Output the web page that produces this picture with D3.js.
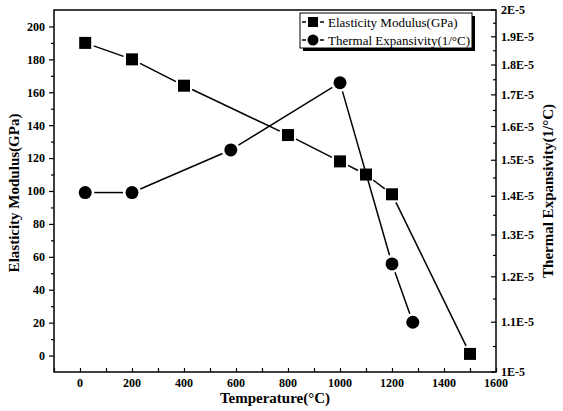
<!DOCTYPE html>
<html>
<head>
<meta charset="utf-8">
<style>
  html, body { margin:0; padding:0; background:#fff; }
  svg { display:block; font-family:"Liberation Serif","Times New Roman",serif; }
  svg text { fill:#000; font-family:"Liberation Serif","Times New Roman",serif; }
  .tick text { font-weight:bold; font-size:12px; }
  .axis path, .axis line { stroke:#000; }
</style>
</head>
<body>
<svg id="chart" width="563" height="411"></svg>
<script src="https://d3js.org/d3.v7.min.js"></script>
<script>
// data
const modTemp   = [20, 200, 400, 800, 1000, 1100, 1200, 1500];
const modValue  = [190, 180, 164, 134, 118, 110, 98, 1];
const expTemp   = [20, 200, 580, 1000, 1200, 1280];
const expValue  = [1.41e-5, 1.41e-5, 1.53e-5, 1.74e-5, 1.23e-5, 1.10e-5];
const xTicks    = [0, 200, 400, 600, 800, 1000, 1200, 1400, 1600];
const yTicks    = [0, 20, 40, 60, 80, 100, 120, 140, 160, 180, 200];
const y2Ticks   = [1e-5, 1.1e-5, 1.2e-5, 1.3e-5, 1.4e-5, 1.5e-5, 1.6e-5, 1.7e-5, 1.8e-5, 1.9e-5, 2e-5];
const y2Labels  = ["1E-5","1.1E-5","1.2E-5","1.3E-5","1.4E-5","1.5E-5","1.6E-5","1.7E-5","1.8E-5","1.9E-5","2E-5"];

const svg = d3.select("#chart");
const L = 54, R = 496, T = 10, B = 372;

const x  = d3.scaleLinear().domain([-100, 1600]).range([L, R]);
const y  = d3.scaleLinear().domain([-10, 210]).range([B, T]);
const y2 = d3.scaleLog().domain([1e-5, 2e-5]).range([B, T]);

// frame
svg.append("rect").attr("x", L).attr("y", T).attr("width", R - L).attr("height", B - T)
  .attr("fill", "none").attr("stroke", "#000").attr("stroke-width", 1.5);

// bottom axis (ticks inward)
const gx = svg.append("g").attr("class", "axis").attr("transform", `translate(0,${B})`);
gx.call(d3.axisBottom(x).tickValues(d3.range(-100, 1601, 100)).tickSize(0).tickFormat(""));
gx.selectAll(".tick line").attr("y2", -4).attr("stroke-width", 1.2);
gx.select(".domain").remove();
gx.append("g").selectAll("text").data(xTicks).join("text")
  .attr("x", d => x(d)).attr("y", 15).attr("text-anchor", "middle")
  .attr("font-weight", "bold").attr("font-size", 12).text(d => d);

// left axis (ticks outward)
const gy = svg.append("g").attr("class", "axis").attr("transform", `translate(${L},0)`);
gy.call(d3.axisLeft(y).tickValues(d3.range(0, 201, 10)).tickSize(5).tickPadding(4)
  .tickFormat(d => yTicks.includes(d) ? d : ""));
gy.selectAll(".tick line").attr("stroke-width", 1.2).attr("x2", d => yTicks.includes(d) ? -5 : -3);
gy.select(".domain").remove();

// right axis (log, ticks inward)
const minor2 = d3.range(10.5, 20, 1).map(v => v * 1e-6);
const gy2 = svg.append("g").attr("class", "axis").attr("transform", `translate(${R},0)`);
gy2.selectAll("line.maj").data(y2Ticks).join("line").attr("class", "maj")
  .attr("x1", -5).attr("x2", 0).attr("y1", d => y2(d)).attr("y2", d => y2(d))
  .attr("stroke", "#000").attr("stroke-width", 1.2);
gy2.selectAll("line.min").data(minor2).join("line").attr("class", "min")
  .attr("x1", -3).attr("x2", 0).attr("y1", d => y2(d)).attr("y2", d => y2(d))
  .attr("stroke", "#000").attr("stroke-width", 1.2);
gy2.selectAll("text").data(y2Ticks).join("text")
  .attr("x", 5).attr("y", d => y2(d)).attr("dy", "0.35em")
  .attr("font-weight", "bold").attr("font-size", 12).text((d, i) => y2Labels[i]);

// axis titles
svg.append("text").attr("x", (L + R) / 2).attr("y", 403).attr("text-anchor", "middle")
  .attr("font-weight", "bold").attr("font-size", 15).text("Temperature(°C)");
svg.append("text").attr("transform", `translate(19,${(T + B) / 2 + 2}) rotate(-90)`)
  .attr("text-anchor", "middle").attr("font-weight", "bold").attr("font-size", 15)
  .text("Elasticity Modulus(GPa)");
svg.append("text").attr("transform", `translate(553,${(T + B) / 2}) rotate(-90)`)
  .attr("text-anchor", "middle").attr("font-weight", "bold").attr("font-size", 15)
  .text("Thermal Expansivity(1/°C)");

// series: line segments leave a small gap around each symbol
const modPts = modTemp.map((t, i) => [x(t), y(modValue[i])]);
const expPts = expTemp.map((t, i) => [x(t), y2(expValue[i])]);
const gap = 9;
function segments(pts) {
  return d3.pairs(pts).map(([a, b]) => {
    const dx = b[0] - a[0], dy = b[1] - a[1], len = Math.hypot(dx, dy);
    const ux = dx / len, uy = dy / len;
    return [a[0] + ux * gap, a[1] + uy * gap, b[0] - ux * gap, b[1] - uy * gap, len];
  }).filter(s => s[4] > 2 * gap);
}
[modPts, expPts].forEach(pts => {
  svg.append("g").selectAll("line").data(segments(pts)).join("line")
    .attr("x1", s => s[0]).attr("y1", s => s[1]).attr("x2", s => s[2]).attr("y2", s => s[3])
    .attr("stroke", "#000").attr("stroke-width", 1.5);
});

const S = 12;
svg.selectAll("rect.sq").data(modPts).join("rect").attr("class", "sq")
  .attr("x", d => d[0] - S / 2).attr("y", d => d[1] - S / 2)
  .attr("width", S).attr("height", S).attr("fill", "#000");
svg.selectAll("circle.ci").data(expPts).join("circle").attr("class", "ci")
  .attr("cx", d => d[0]).attr("cy", d => d[1]).attr("r", 6.5).attr("fill", "#000");

// legend
const lg = svg.append("g").attr("transform", "translate(300,13)");
const lw = 172, lh = 35;
lg.append("rect").attr("x", 3).attr("y", 3).attr("width", lw).attr("height", lh).attr("fill", "#000");
lg.append("rect").attr("width", lw).attr("height", lh).attr("fill", "#fff").attr("stroke", "#000");
const items = [["Elasticity Modulus(GPa)", "sq"], ["Thermal Expansivity(1/°C)", "ci"]];
items.forEach((it, i) => {
  const cy = 9 + i * 18;
  lg.append("line").attr("x1", 2).attr("x2", 6).attr("y1", cy).attr("y2", cy)
    .attr("stroke", "#000").attr("stroke-width", 1.5);
  lg.append("line").attr("x1", 20).attr("x2", 24).attr("y1", cy).attr("y2", cy)
    .attr("stroke", "#000").attr("stroke-width", 1.5);
  if (it[1] === "sq") lg.append("rect").attr("x", 8).attr("y", cy - 5).attr("width", 10).attr("height", 10);
  else lg.append("circle").attr("cx", 13).attr("cy", cy).attr("r", 5.5);
  lg.append("text").attr("x", 28).attr("y", cy).attr("dy", "0.35em")
    .attr("font-size", 13).text(it[0]);
});
</script>
</body>
</html>
